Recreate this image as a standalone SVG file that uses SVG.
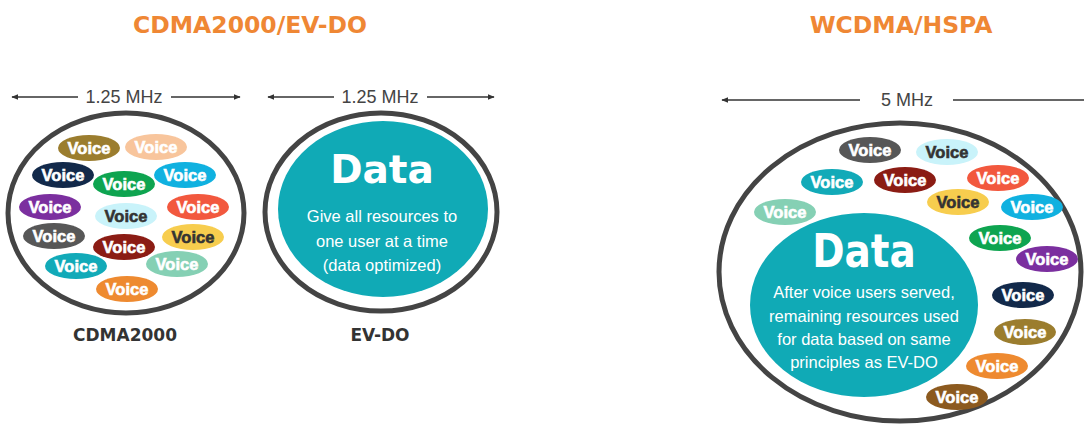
<svg xmlns="http://www.w3.org/2000/svg" width="1084" height="425" viewBox="0 0 1084 425">
  <style>
    .title { font-family: "DejaVu Sans", sans-serif; font-weight: bold; font-size: 23.5px; fill: #ef8734; text-anchor: middle; }
    .dim { font-family: "Liberation Sans", Arial, sans-serif; font-size: 18px; fill: #444; text-anchor: middle; }
    .dimline { stroke: #333; stroke-width: 1.5; fill: none; }
    .ring { fill: #fff; stroke: #444; stroke-width: 5; }
    .data { fill: #10aab6; }
    .big { font-family: "DejaVu Sans", sans-serif; font-weight: bold; font-size: 39px; fill: #fff; text-anchor: middle; }
    .body { font-family: "Liberation Sans", Arial, sans-serif; font-size: 16.5px; fill: #fff; text-anchor: middle; }
    .label { font-family: "DejaVu Sans", sans-serif; font-weight: bold; font-size: 17px; fill: #333; text-anchor: middle; }
    .v { font-family: "Liberation Sans", Arial, sans-serif; font-weight: bold; font-size: 16.5px; fill: #fff; stroke: #fff; stroke-width: 0.6; text-anchor: middle; }
    .vd { fill: #333; stroke: #333; }
  </style>
  <defs>
    <marker id="ah" viewBox="0 0 10 10" refX="9" refY="5" markerWidth="7" markerHeight="7" orient="auto-start-reverse" markerUnits="userSpaceOnUse">
      <path d="M0,1 L10,5 L0,9 Z" fill="#333"/>
    </marker>
    <ellipse id="vo" cx="0" cy="0" rx="31" ry="13"/>
  </defs>

  <!-- titles -->
  <text class="title" x="250" y="33">CDMA2000/EV-DO</text>
  <text class="title" x="901" y="33">WCDMA/HSPA</text>

  <!-- bandwidth dimension arrows -->
  <g id="connectors">
    <line class="dimline" x1="78" y1="97" x2="12" y2="97" marker-end="url(#ah)"/>
    <line class="dimline" x1="171" y1="97" x2="240" y2="97" marker-end="url(#ah)"/>
    <text class="dim" x="124" y="103">1.25 MHz</text>
    <line class="dimline" x1="334" y1="97" x2="268" y2="97" marker-end="url(#ah)"/>
    <line class="dimline" x1="427" y1="97" x2="494" y2="97" marker-end="url(#ah)"/>
    <text class="dim" x="380" y="103">1.25 MHz</text>
    <line class="dimline" x1="860" y1="100" x2="722" y2="100" marker-end="url(#ah)"/>
    <line class="dimline" x1="953" y1="100" x2="1090" y2="100"/>
    <text class="dim" x="907" y="106">5 MHz</text>
  </g>

  <!-- CDMA2000 carrier: voice users only -->
  <g id="cdma2000">
    <ellipse class="ring" cx="126" cy="213" rx="118" ry="100"/>
    <g fill="#9b7d2e"><use href="#vo" x="89" y="148"/></g>
    <g fill="#f8c59c"><use href="#vo" x="156" y="147"/></g>
    <g fill="#12294a"><use href="#vo" x="63" y="175"/></g>
    <g fill="#0ea450"><use href="#vo" x="124" y="184"/></g>
    <g fill="#10b1e0"><use href="#vo" x="185" y="175"/></g>
    <g fill="#7b2f9f"><use href="#vo" x="50" y="207"/></g>
    <g fill="#c9f3fa"><use href="#vo" x="126" y="216"/></g>
    <g fill="#f2583e"><use href="#vo" x="198" y="207"/></g>
    <g fill="#575757"><use href="#vo" x="54" y="236"/></g>
    <g fill="#8b1c14"><use href="#vo" x="124" y="247"/></g>
    <g fill="#f7cd4e"><use href="#vo" x="193" y="237"/></g>
    <g fill="#12aab8"><use href="#vo" x="76" y="266"/></g>
    <g fill="#85d0b4"><use href="#vo" x="177" y="264"/></g>
    <g fill="#ee8a30"><use href="#vo" x="127" y="289"/></g>
    <text class="v" x="89" y="154">Voice</text>
    <text class="v" x="156" y="153">Voice</text>
    <text class="v" x="63" y="181">Voice</text>
    <text class="v" x="124" y="190">Voice</text>
    <text class="v" x="185" y="181">Voice</text>
    <text class="v" x="50" y="213">Voice</text>
    <text class="v vd" x="126" y="222">Voice</text>
    <text class="v" x="198" y="213">Voice</text>
    <text class="v" x="54" y="242">Voice</text>
    <text class="v" x="124" y="253">Voice</text>
    <text class="v vd" x="193" y="243">Voice</text>
    <text class="v" x="76" y="272">Voice</text>
    <text class="v" x="177" y="270">Voice</text>
    <text class="v" x="127" y="295">Voice</text>
    <text class="label" x="125" y="341">CDMA2000</text>
  </g>

  <!-- EV-DO carrier: data only -->
  <g id="evdo">
    <ellipse class="ring" cx="381" cy="212" rx="116" ry="99"/>
    <ellipse class="data" cx="383" cy="209" rx="105" ry="88"/>
    <text class="big" x="382" y="183">Data</text>
    <text class="body" x="382" y="222">Give all resources to</text>
    <text class="body" x="382" y="247">one user at a time</text>
    <text class="body" x="382" y="271">(data optimized)</text>
    <text class="label" x="380" y="341">EV-DO</text>
  </g>

  <!-- WCDMA/HSPA carrier: voice and data share -->
  <g id="wcdma">
    <ellipse class="ring" cx="900" cy="272" rx="181" ry="149"/>
    <ellipse class="data" cx="864" cy="305" rx="114" ry="92"/>
    <text class="big" transform="translate(864 267) scale(1 1.18)">Data</text>
    <text class="body" x="864" y="298">After voice users served,</text>
    <text class="body" x="864" y="322">remaining resources used</text>
    <text class="body" x="864" y="345">for data based on same</text>
    <text class="body" x="864" y="368">principles as EV-DO</text>
    <g fill="#575757"><use href="#vo" x="870" y="150"/></g>
    <g fill="#c9f3fa"><use href="#vo" x="947" y="152"/></g>
    <g fill="#12aab8"><use href="#vo" x="832" y="182"/></g>
    <g fill="#8b1c14"><use href="#vo" x="905" y="180"/></g>
    <g fill="#f2583e"><use href="#vo" x="998" y="178"/></g>
    <g fill="#85d0b4"><use href="#vo" x="785" y="212"/></g>
    <g fill="#f7cd4e"><use href="#vo" x="958" y="202"/></g>
    <g fill="#10b1e0"><use href="#vo" x="1032" y="207"/></g>
    <g fill="#0ea450"><use href="#vo" x="1000" y="238"/></g>
    <g fill="#7b2f9f"><use href="#vo" x="1047" y="259"/></g>
    <g fill="#12294a"><use href="#vo" x="1023" y="295"/></g>
    <g fill="#9b7d2e"><use href="#vo" x="1025" y="332"/></g>
    <g fill="#ee8a30"><use href="#vo" x="997" y="366"/></g>
    <g fill="#8c5a1f"><use href="#vo" x="957" y="397"/></g>
    <text class="v" x="870" y="156">Voice</text>
    <text class="v vd" x="947" y="158">Voice</text>
    <text class="v" x="832" y="188">Voice</text>
    <text class="v" x="905" y="186">Voice</text>
    <text class="v" x="998" y="184">Voice</text>
    <text class="v" x="785" y="218">Voice</text>
    <text class="v vd" x="958" y="208">Voice</text>
    <text class="v" x="1032" y="213">Voice</text>
    <text class="v" x="1000" y="244">Voice</text>
    <text class="v" x="1047" y="265">Voice</text>
    <text class="v" x="1023" y="301">Voice</text>
    <text class="v" x="1025" y="338">Voice</text>
    <text class="v" x="997" y="372">Voice</text>
    <text class="v" x="957" y="403">Voice</text>
  </g>
</svg>
